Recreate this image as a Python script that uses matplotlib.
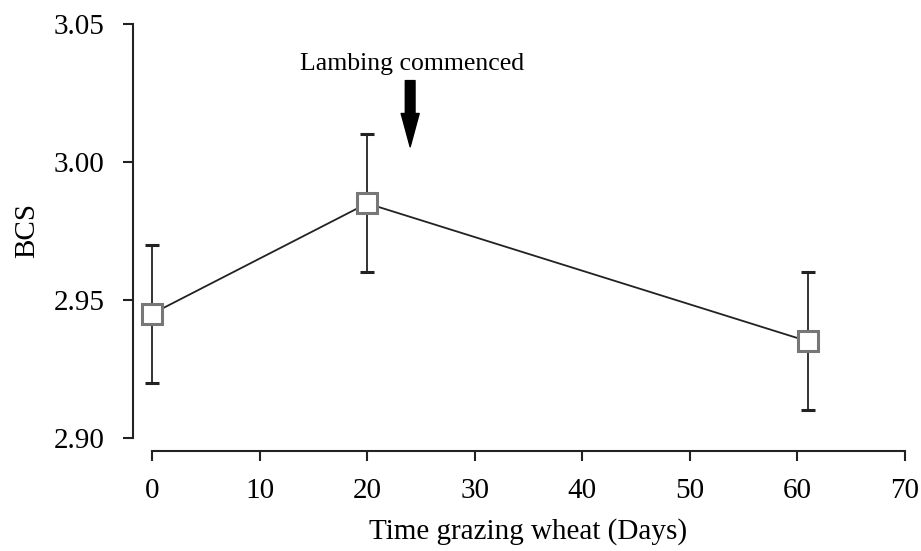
import numpy as np
import matplotlib
matplotlib.use("Agg")
import matplotlib.pyplot as plt

# values
days = [0, 20, 61]
bcs = [2.945, 2.985, 2.935]
bcs_err = [0.025, 0.025, 0.025]
lambing_day = 24

plt.rcParams['font.family'] = ['Liberation Serif', 'DejaVu Serif']

fig = plt.figure(figsize=(9.21, 5.51), dpi=100)
ax = fig.add_axes([152 / 921, 1 - 438 / 551, (905 - 152) / 921, (438 - 24) / 551])

ax.errorbar(days, bcs, yerr=bcs_err, color='#222222', lw=1.3, elinewidth=1.3,
            capsize=5, capthick=1.3, marker='s', ms=15, mfc='white',
            mec='#777777', mew=2.2, clip_on=False, zorder=3)

ax.annotate('', xy=(lambing_day, 3.0055), xytext=(lambing_day, 3.0295),
            arrowprops=dict(facecolor='black', edgecolor='black', width=7,
                            headwidth=13, headlength=24))
ax.text(lambing_day + 0.2, 3.0335, 'Lambing commenced', ha='center', va='baseline',
        fontsize=18.5)

ax.set_xlim(0, 70)
ax.set_ylim(2.90, 3.05)
ax.set_xticks(np.arange(0, 71, 10))
ax.set_yticks([2.90, 2.95, 3.00, 3.05])
ax.set_yticklabels(['2.90', '2.95', '3.00', '3.05'])

for s in ['top', 'right']:
    ax.spines[s].set_visible(False)
ax.spines['left'].set_position(('outward', 14))
ax.spines['bottom'].set_position(('outward', 9))
for s in ['left', 'bottom']:
    ax.spines[s].set_linewidth(1.5)
    ax.spines[s].set_color('#222222')
ax.tick_params(width=1.5, length=7, labelsize=21, color='#222222')
ax.tick_params(axis='y', pad=13)
ax.tick_params(axis='x', pad=13)

ax.set_xlabel('Time grazing wheat (Days)', fontsize=21, labelpad=10)
ax.set_ylabel('BCS', fontsize=21, labelpad=10)

fig.savefig('out.png', dpi=100)
